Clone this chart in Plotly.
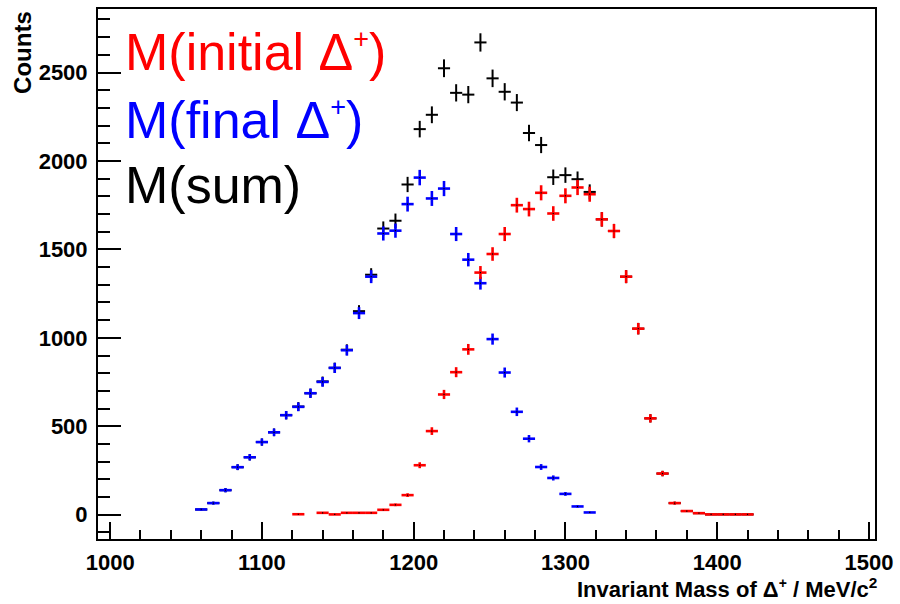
import numpy as np
import plotly.graph_objects as go

# Bin centres (MeV/c^2), 8 MeV wide bins
mass_final = [1060, 1068, 1076, 1084, 1092, 1100, 1108, 1116, 1124, 1132, 1140,
              1148, 1156, 1164, 1172, 1180, 1188, 1196, 1204, 1212, 1220, 1228,
              1236, 1244, 1252, 1260, 1268, 1276, 1284, 1292, 1300, 1308, 1316]
counts_final = [30, 66, 139, 269, 325, 411, 466, 563, 610, 687, 751,
                830, 930, 1140, 1346, 1590, 1606, 1756, 1906, 1788, 1844, 1587,
                1442, 1309, 993, 804, 582, 430, 270, 208, 118, 47, 13]

mass_initial = [1124, 1140, 1148, 1156, 1164, 1172, 1180, 1188, 1196, 1204, 1212,
                1220, 1228, 1236, 1244, 1252, 1260, 1268, 1276, 1284, 1292, 1300,
                1308, 1316, 1324, 1332, 1340, 1348, 1356, 1364, 1372, 1380, 1388,
                1396, 1404, 1412, 1420]
counts_initial = [3, 11, 2, 11, 11, 11, 28, 56, 111, 280, 473,
                  680, 806, 935, 1369, 1474, 1587, 1750, 1728, 1820, 1703, 1803,
                  1850, 1812, 1670, 1604, 1346, 1052, 545, 233, 66, 21, 9,
                  2, 2, 2, 2]

mass_sum = [1060, 1068, 1076, 1084, 1092, 1100, 1108, 1116, 1124, 1132, 1140,
            1148, 1156, 1164, 1172, 1180, 1188, 1196, 1204, 1212, 1220, 1228,
            1236, 1244, 1252, 1260, 1268, 1276, 1284, 1292, 1300, 1308, 1316,
            1324, 1332, 1340, 1348, 1356, 1364, 1372, 1380, 1388, 1396, 1404,
            1412, 1420]
counts_sum = [30, 66, 139, 269, 325, 411, 466, 563, 612, 687, 754,
              831, 933, 1151, 1357, 1618, 1662, 1867, 2180, 2261, 2524, 2385,
              2375, 2670, 2467, 2391, 2330, 2158, 2090, 1908, 1920, 1897, 1825,
              1670, 1604, 1346, 1052, 545, 233, 66, 21, 9, 2, 2,
              2, 2]

HALF_BIN = 4.0
FONT = "Liberation Sans, Arial, sans-serif"


def hist_trace(x, y, color, thickness):
    y = np.asarray(y, dtype=float)
    return go.Scatter(
        x=x, y=y, mode="markers",
        marker=dict(size=1.2, color="black", symbol="square", line=dict(width=0)),
        error_x=dict(type="data", array=[HALF_BIN] * len(x), color=color,
                     thickness=thickness, width=0),
        error_y=dict(type="data", array=np.sqrt(y), color=color,
                     thickness=thickness, width=0),
        showlegend=False, hoverinfo="x+y",
    )


# the summed histogram goes underneath the two components
fig = go.Figure()
fig.add_trace(hist_trace(mass_sum, counts_sum, "#000000", 2.0))
fig.add_trace(hist_trace(mass_final, counts_final, "#0000ff", 2.6))
fig.add_trace(hist_trace(mass_initial, counts_initial, "#ff0000", 2.6))

L, R, T, B = 98, 19, 7, 65
W, H = 900, 604
pw, ph = W - L - R, H - T - B


def px_x(p):
    return (p - L) / pw


def px_y(p):
    return (H - B - p) / ph


tickfont = dict(family=FONT, size=22, color="black", weight="bold")

fig.update_layout(
    width=W, height=H,
    margin=dict(l=L, r=R, t=T, b=B, pad=0),
    paper_bgcolor="white", plot_bgcolor="white",
    xaxis=dict(
        range=[992, 1504], showgrid=False, zeroline=False,
        showline=True, linecolor="black", linewidth=2, mirror=True,
        tick0=1000, dtick=100, ticks="inside", ticklen=17, tickwidth=1.5,
        tickcolor="black", tickfont=tickfont, ticklabelstandoff=3,
        minor=dict(dtick=20, tick0=1000, ticks="inside", ticklen=9,
                   tickwidth=1.5, tickcolor="black", showgrid=False),
    ),
    yaxis=dict(
        range=[-137, 2859], showgrid=False, zeroline=False,
        showline=True, linecolor="black", linewidth=2, mirror=True,
        tick0=0, dtick=500, ticks="inside", ticklen=23, tickwidth=1.5,
        tickcolor="black", tickfont=tickfont, ticklabelstandoff=4,
        minor=dict(dtick=100, tick0=0, ticks="inside", ticklen=12,
                   tickwidth=1.5, tickcolor="black", showgrid=False),
    ),
)

small_plus = '<sup><span style="font-size:27px">+</span></sup>'
title_plus = '<sup><span style="font-size:14px">+</span></sup>'

annotations = [
    dict(text="Counts", textangle=-90, x=px_x(22), y=px_y(50.5),
         xanchor="center", yanchor="middle",
         font=dict(family=FONT, size=24, color="black", weight="bold")),
    dict(text="Invariant Mass of Δ" + title_plus + " / MeV/c<sup>2</sup>",
         x=px_x(885), y=px_y(604), xanchor="right", yanchor="bottom",
         font=dict(family=FONT, size=22, color="black", weight="bold")),
    dict(text="M(initial Δ" + small_plus + ")", x=px_x(123), y=px_y(81),
         xanchor="left", yanchor="bottom",
         font=dict(family=FONT, size=52, color="#ff0000")),
    dict(text="M(final Δ" + small_plus + ")", x=px_x(123), y=px_y(149.5),
         xanchor="left", yanchor="bottom",
         font=dict(family=FONT, size=52, color="#0000ff")),
    dict(text="M(sum)", x=px_x(123), y=px_y(214.5),
         xanchor="left", yanchor="bottom",
         font=dict(family=FONT, size=52, color="#000000")),
]
for a in annotations:
    a.update(xref="paper", yref="paper", showarrow=False)
fig.update_layout(annotations=annotations)

fig.write_html("out.html")
